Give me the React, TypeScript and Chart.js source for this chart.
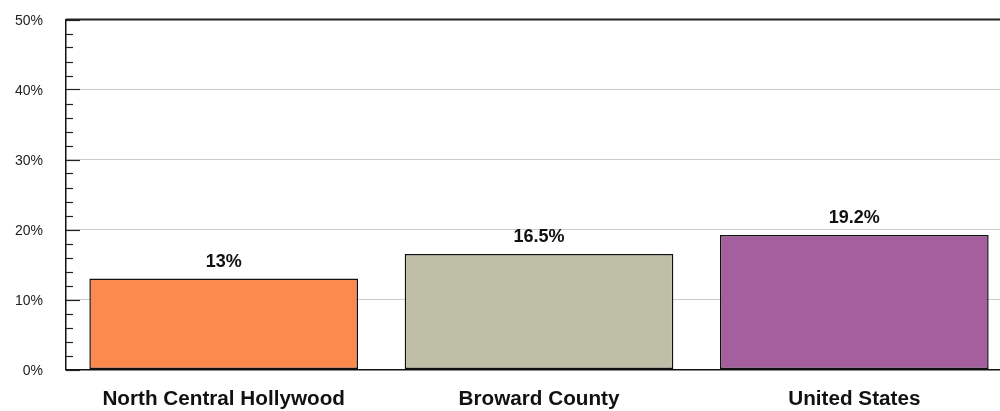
import React, { useEffect, useRef } from "react";
import { Chart, registerables } from "chart.js";

Chart.register(...registerables);

const categories = ["North Central Hollywood", "Broward County", "United States"];
const values = [13, 16.5, 19.2];
const valueLabels = ["13%", "16.5%", "19.2%"];
const barColors = ["#fc8a4f", "#bfbfa7", "#a55f9f"];
const yTicks = [0, 10, 20, 30, 40, 50];
const minorStep = 2;

const FONT = "'Liberation Sans', Arial, sans-serif";

const decorPlugin = {
  id: "decor",
  afterDatasetsDraw(chart: any) {
    const { ctx, chartArea } = chart;
    const y = chart.scales.y;
    ctx.save();
    ctx.strokeStyle = "#222";
    ctx.lineWidth = 1.2;
    for (let v = yTicks[0]; v <= yTicks[yTicks.length - 1]; v += minorStep) {
      const py = Math.round(y.getPixelForValue(v)) + 0.5;
      const major = v % 10 === 0;
      ctx.beginPath();
      ctx.moveTo(chartArea.left, py);
      ctx.lineTo(chartArea.left + (major ? 14 : 7), py);
      ctx.stroke();
    }
    ctx.strokeStyle = "#222";
    ctx.lineWidth = 2;
    ctx.beginPath();
    ctx.moveTo(chartArea.left, chartArea.top);
    ctx.lineTo(chartArea.right, chartArea.top);
    ctx.stroke();
    const meta = chart.getDatasetMeta(0);
    ctx.fillStyle = "#111";
    ctx.font = `bold 18px ${FONT}`;
    ctx.textAlign = "center";
    ctx.textBaseline = "alphabetic";
    meta.data.forEach((bar: any, i: number) => {
      ctx.fillText(valueLabels[i], bar.x, bar.y - 12);
    });
    ctx.restore();
  },
};

export default function App() {
  const ref = useRef<HTMLCanvasElement>(null);
  useEffect(() => {
    if (!ref.current) return;
    const chart = new Chart(ref.current, {
      type: "bar",
      data: {
        labels: categories,
        datasets: [
          {
            data: values,
            backgroundColor: barColors,
            borderColor: "#111",
            borderWidth: 1.5,
            borderSkipped: false,
            barPercentage: 0.852,
            categoryPercentage: 1,
          },
        ],
      },
      options: {
        responsive: false,
        animation: false,
        events: [],
        layout: { padding: { top: 19.5, right: 0, bottom: 0, left: 0 } },
        plugins: {
          legend: { display: false },
          tooltip: { enabled: false },
          title: { display: false },
        },
        scales: {
          x: {
            afterFit: (scale: any) => {
              scale.height = 41.5;
            },
            grid: { display: false, drawTicks: false },
            border: { display: true, color: "#111", width: 1.5 },
            ticks: {
              color: "#111",
              padding: 17,
              font: { family: FONT, size: 20.7, weight: "bold" },
              maxRotation: 0,
              autoSkip: false,
            },
          },
          y: {
            min: 0,
            max: 50,
            afterFit: (scale: any) => {
              scale.width = 66;
              scale.paddingTop = 0;
              scale.paddingBottom = 0;
            },
            grid: {
              drawTicks: false,
              color: (c: any) =>
                c.tick && (c.tick.value === 50 || c.tick.value === 0) ? "rgba(0,0,0,0)" : "#cccccc",
              lineWidth: 1,
            },
            border: { display: true, color: "#111", width: 1.5 },
            afterBuildTicks: (scale: any) => {
              scale.ticks = yTicks.map((v) => ({ value: v }));
            },
            ticks: {
              color: "#222",
              padding: 23,
              labelOffset: 1.5,
              font: { family: FONT, size: 14 },
              callback: (v: any) => `${v}%`,
            },
          },
        },
      },
      plugins: [decorPlugin],
    });
    return () => chart.destroy();
  }, []);
  return (
    <div
      style={{
        position: "fixed",
        left: 0,
        top: 0,
        width: 1000,
        height: 411,
        overflow: "hidden",
        background: "#fff",
      }}
    >
      <canvas ref={ref} width={1012} height={411} style={{ display: "block" }} />
    </div>
  );
}
